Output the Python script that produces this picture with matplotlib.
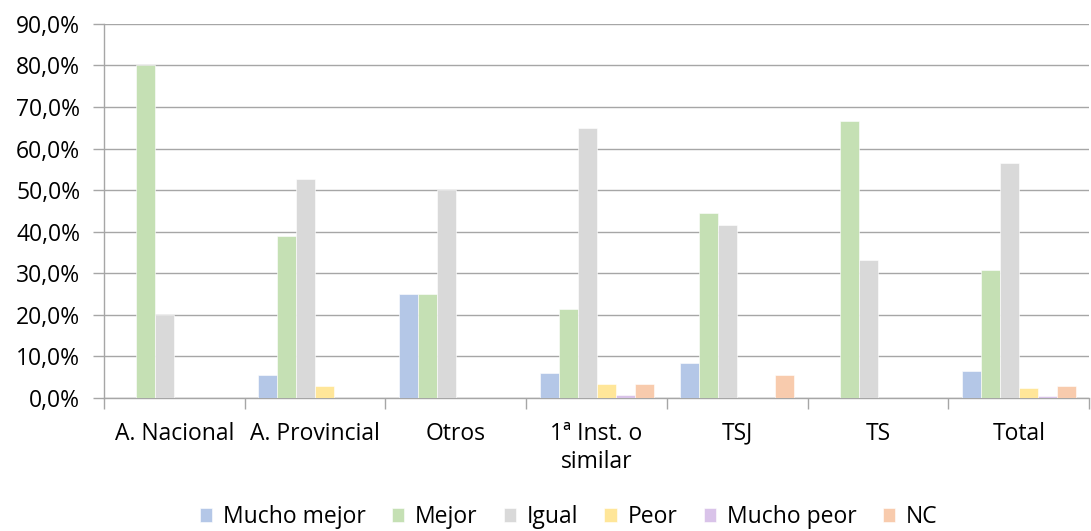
import matplotlib
matplotlib.use("Agg")
import matplotlib.pyplot as plt
import numpy as np
from matplotlib.ticker import FuncFormatter, MultipleLocator

plt.rcParams['font.family'] = ['Open Sans', 'DejaVu Sans']

categories = ["A. Nacional", "A. Provincial", "Otros", "1ª Inst. o\nsimilar", "TSJ", "TS", "Total"]
series_names = ["Mucho mejor", "Mejor", "Igual", "Peor", "Mucho peor", "NC"]
mucho_mejor = [0.0, 5.6, 25.0, 6.0, 8.3, 0.0, 6.4]
mejor = [80.0, 38.9, 25.0, 21.3, 44.4, 66.7, 30.8]
igual = [20.0, 52.8, 50.0, 64.9, 41.7, 33.3, 56.6]
peor = [0.0, 2.8, 0.0, 3.4, 0.0, 0.0, 2.4]
mucho_peor = [0.0, 0.0, 0.0, 0.8, 0.0, 0.0, 0.5]
nc = [0.0, 0.0, 0.0, 3.4, 5.6, 0.0, 3.0]
colors = ["#B4C7E7", "#C5E0B4", "#D9D9D9", "#FFE699", "#D9C3E9", "#F8CBAD"]

data = [mucho_mejor, mejor, igual, peor, mucho_peor, nc]

fig = plt.figure(figsize=(10.91, 5.31), dpi=100)
ax = fig.add_axes([0.0953, 0.2505, 0.903, 0.7045])

x = np.arange(len(categories))
w = 0.135
for i, (vals, c, name) in enumerate(zip(data, colors, series_names)):
    offs = (i - 2.5) * w
    ax.bar(x + offs, vals, width=w, color=c, label=name, edgecolor='white', linewidth=0.4, zorder=3)

ax.set_ylim(0, 90)
ax.set_xlim(-0.5, len(categories) - 0.5)
ax.yaxis.set_major_locator(MultipleLocator(10))
ax.yaxis.set_major_formatter(FuncFormatter(lambda v, p: f"{v:.1f}%".replace('.', ',')))
ax.grid(axis='y', color='#A6A6A6', linewidth=1.0, zorder=0)
for s in ['top', 'right']:
    ax.spines[s].set_visible(False)
for s in ['left', 'bottom']:
    ax.spines[s].set_color('#A6A6A6')
    ax.spines[s].set_linewidth(1.0)

ax.set_xticks(x)
ax.set_xticklabels(categories, fontsize=16.5, color='#000000', linespacing=1.25)
ax.set_xticks(np.arange(-0.5, len(categories)), minor=True)
ax.tick_params(axis='x', which='major', length=0, pad=17)
ax.tick_params(axis='x', which='minor', length=8, color='#A6A6A6', width=1.0)
ax.tick_params(axis='y', length=8, color='#A6A6A6', width=1.0, labelsize=16.5, pad=9)

handles, labels = ax.get_legend_handles_labels()
fig.legend(handles, labels, loc='lower center', bbox_to_anchor=(0.521, 0.004), ncol=6, frameon=False,
           fontsize=16.5, handlelength=0.55, handleheight=0.55, handletextpad=0.45,
           columnspacing=1.15, borderaxespad=0, borderpad=0)

fig.savefig("out.png", dpi=100)
